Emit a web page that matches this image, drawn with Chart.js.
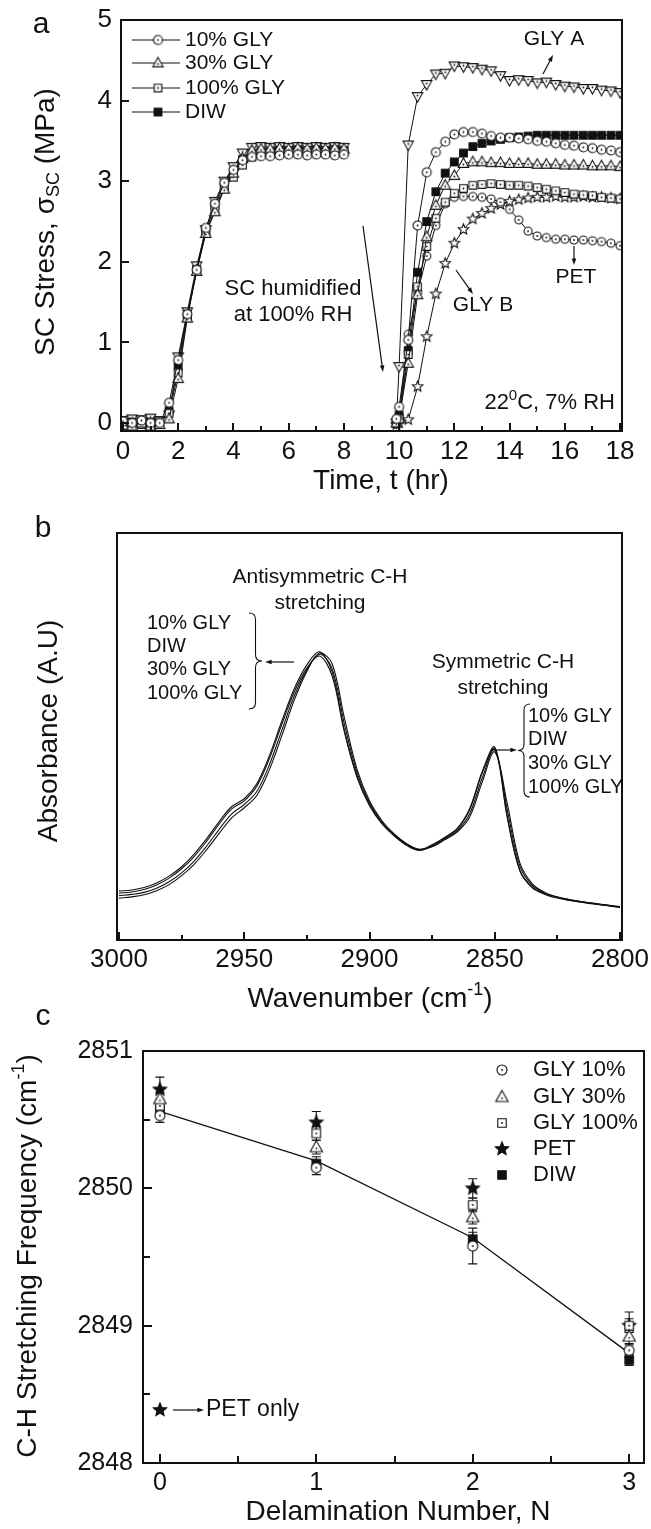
<!DOCTYPE html>
<html>
<head>
<meta charset="utf-8">
<script src="https://cdn.jsdelivr.net/npm/chart.js@4.4.1/dist/chart.umd.min.js"></script>
<style>
  html, body { margin: 0; padding: 0; background: #fff; }
  #wrap { position: relative; width: 651px; height: 1529px; }
  #wrap canvas { position: absolute; left: 0; top: 0; }
</style>
</head>
<body>
<div id="wrap">
  <canvas id="chartA" width="651" height="1529"></canvas>
  <canvas id="chartB" width="651" height="1529"></canvas>
  <canvas id="chartC" width="651" height="1529"></canvas>
</div>
<script>
const INK = "#111";
const FONT = "'Liberation Sans', Arial, Helvetica, sans-serif";

// ---- panel a: stress vs time ----
const timeDry = [0, 0.33, 0.67, 1, 1.33, 1.67, 2, 2.33, 2.67, 3, 3.33, 3.67, 4, 4.33, 4.67, 5, 5.33, 5.67, 6, 6.33, 6.67, 7, 7.33, 7.67, 8];
const timeWet = [9.9, 10, 10.33, 10.67, 11, 11.33, 11.67, 12, 12.33, 12.67, 13, 13.33, 13.67, 14, 14.33, 14.67, 15, 15.33, 15.67, 16, 16.33, 16.67, 17, 17.33, 17.67, 18];

const gly10Dry  = [0.02, 0.0, 0.03, 0.0, 0.0, 0.25, 0.78, 1.35, 1.9, 2.42, 2.72, 2.98, 3.14, 3.26, 3.3, 3.31, 3.31, 3.32, 3.33, 3.33, 3.32, 3.33, 3.33, 3.32, 3.33];
const gly30Dry  = [-0.03, -0.04, 0.0, -0.04, -0.02, 0.05, 0.55, 1.3, 1.88, 2.35, 2.62, 2.9, 3.1, 3.28, 3.38, 3.4, 3.4, 3.41, 3.4, 3.41, 3.4, 3.41, 3.4, 3.41, 3.4];
const gly100Dry = [0.0, 0.0, -0.02, 0.0, 0.02, 0.12, 0.62, 1.32, 1.9, 2.36, 2.65, 2.92, 3.05, 3.2, 3.3, 3.35, 3.36, 3.37, 3.37, 3.37, 3.38, 3.37, 3.37, 3.38, 3.37];
const diwDry    = [0.0, 0.01, 0.0, 0.01, 0.0, 0.15, 0.7, 1.35, 1.9, 2.38, 2.7, 2.95, 3.12, 3.27, 3.34, 3.36, 3.37, 3.38, 3.38, 3.39, 3.38, 3.39, 3.38, 3.39, 3.38];
const glyADry   = [0.03, 0.05, 0.04, 0.06, 0.03, 0.1, 0.82, 1.38, 1.95, 2.4, 2.75, 3.0, 3.18, 3.35, 3.42, 3.43, 3.42, 3.43, 3.42, 3.43, 3.42, 3.43, 3.42, 3.43, 3.42];

const gly10Wet  = [0.05, 0.2, 1.03, 2.45, 3.11, 3.36, 3.49, 3.58, 3.61, 3.61, 3.59, 3.56, 3.54, 3.54, 3.53, 3.52, 3.5, 3.49, 3.47, 3.45, 3.44, 3.42, 3.41, 3.39, 3.38, 3.36];
const gly30Wet  = [0.0, 0.05, 0.74, 1.59, 2.31, 2.7, 2.95, 3.07, 3.22, 3.24, 3.24, 3.23, 3.23, 3.22, 3.22, 3.22, 3.21, 3.21, 3.21, 3.2, 3.2, 3.2, 3.19, 3.19, 3.19, 3.18];
const gly100Wet = [0.0, 0.05, 0.85, 1.69, 2.19, 2.54, 2.74, 2.85, 2.91, 2.95, 2.96, 2.97, 2.96, 2.95, 2.95, 2.94, 2.92, 2.9, 2.88, 2.86, 2.84, 2.83, 2.82, 2.8, 2.79, 2.78];
const diwWet    = [0.0, 0.1, 0.9, 1.87, 2.5, 2.87, 3.1, 3.24, 3.35, 3.43, 3.47, 3.5, 3.52, 3.54, 3.55, 3.56, 3.57, 3.57, 3.57, 3.57, 3.57, 3.57, 3.57, 3.57, 3.57, 3.57];
const glyAWet   = [0.0, 0.7, 3.45, 4.05, 4.2, 4.33, 4.34, 4.43, 4.42, 4.41, 4.39, 4.37, 4.31, 4.25, 4.26, 4.25, 4.22, 4.23, 4.2, 4.18, 4.17, 4.15, 4.15, 4.13, 4.12, 4.1];
const glyBWet   = [-0.02, 0.0, 0.04, 0.45, 1.07, 1.6, 1.98, 2.23, 2.4, 2.53, 2.6, 2.66, 2.71, 2.75, 2.77, 2.79, 2.8, 2.8, 2.81, 2.8, 2.8, 2.81, 2.8, 2.8, 2.79, 2.78];
const petWet    = [0.0, 0.08, 1.1, 1.62, 2.07, 2.45, 2.72, 2.8, 2.81, 2.81, 2.8, 2.78, 2.74, 2.65, 2.52, 2.38, 2.32, 2.3, 2.28, 2.28, 2.27, 2.27, 2.26, 2.25, 2.23, 2.2];

const timeTicks = [0, 2, 4, 6, 8, 10, 12, 14, 16, 18];
const stressTicks = [0, 1, 2, 3, 4, 5];

// ---- panel b: FTIR spectra ----
const wavenumbers = [3000, 2995, 2990, 2985, 2980, 2975, 2970, 2965, 2960, 2955, 2950, 2945, 2940, 2935, 2930, 2925, 2920, 2915, 2910, 2905, 2900,
  2895, 2890, 2885, 2880, 2875, 2870, 2865, 2860, 2855, 2850, 2845, 2840, 2835, 2830, 2825, 2820, 2815, 2810, 2805, 2800];
const absGly10  = [0.120, 0.123, 0.129, 0.140, 0.157, 0.180, 0.211, 0.249, 0.291, 0.328, 0.347, 0.384, 0.452, 0.538, 0.618, 0.676, 0.708, 0.66, 0.515, 0.404, 0.333,
  0.287, 0.257, 0.234, 0.222, 0.234, 0.252, 0.274, 0.323, 0.414, 0.474, 0.305, 0.172, 0.130, 0.114, 0.105, 0.099, 0.094, 0.090, 0.086, 0.082];
const absDiw    = [0.115, 0.118, 0.124, 0.135, 0.152, 0.175, 0.205, 0.243, 0.285, 0.322, 0.342, 0.378, 0.445, 0.53, 0.61, 0.668, 0.698, 0.65, 0.51, 0.40, 0.33,
  0.285, 0.255, 0.232, 0.22, 0.232, 0.25, 0.272, 0.32, 0.41, 0.47, 0.30, 0.17, 0.128, 0.112, 0.103, 0.097, 0.092, 0.088, 0.084, 0.08];
const absGly30  = [0.109, 0.112, 0.117, 0.127, 0.143, 0.165, 0.194, 0.231, 0.272, 0.31, 0.333, 0.365, 0.43, 0.515, 0.6, 0.664, 0.702, 0.668, 0.53, 0.412, 0.337,
  0.29, 0.258, 0.234, 0.221, 0.23, 0.248, 0.268, 0.31, 0.398, 0.468, 0.32, 0.182, 0.134, 0.115, 0.105, 0.098, 0.093, 0.089, 0.085, 0.081];
const absGly100 = [0.103, 0.106, 0.111, 0.121, 0.136, 0.158, 0.186, 0.222, 0.262, 0.3, 0.325, 0.355, 0.418, 0.502, 0.59, 0.66, 0.705, 0.68, 0.545, 0.42, 0.342,
  0.293, 0.26, 0.236, 0.223, 0.229, 0.246, 0.265, 0.302, 0.388, 0.462, 0.335, 0.19, 0.138, 0.117, 0.106, 0.099, 0.094, 0.089, 0.085, 0.081];
const waveTicks = [3000, 2950, 2900, 2850, 2800];

// ---- panel c: C-H frequency vs delamination number ----
const delamN = [0, 1, 2, 3];
const freqGly10  = [2850.53, 2850.15, 2849.58, 2848.82];
const freqGly30  = [2850.65, 2850.30, 2849.79, 2848.92];
const freqGly100 = [2850.60, 2850.40, 2849.88, 2849.00];
const freqPet    = [2850.72, 2850.48, 2850.00, 2849.00];
const freqDiw    = [2850.57, 2850.18, 2849.63, 2848.75];
const errGly10   = [0.05, 0.05, 0.13, 0.05];
const errGly30   = [0.05, 0.05, 0.05, 0.06];
const errGly100  = [0.05, 0.05, 0.05, 0.10];
const errPet     = [0.09, 0.08, 0.07, 0.05];
const errDiw     = [0.05, 0.05, 0.05, 0.04];
const freqTrend  = [2850.56, 2850.20, 2849.64, 2848.80];
const delamTicks = [0, 1, 2, 3];
const freqTicks = [2848, 2849, 2850, 2851];

// ---------- markers ----------
function makeMarker(kind, r, filled, dot) {
  const size = Math.ceil(2 * r + 4);
  const c = document.createElement("canvas");
  c.width = size; c.height = size;
  const g = c.getContext("2d");
  const m = size / 2;
  let dy = 0;
  g.lineWidth = 1.1;
  g.strokeStyle = INK;
  g.fillStyle = filled ? INK : "#fff";
  g.beginPath();
  if (kind === "circle") {
    g.arc(m, m, r, 0, Math.PI * 2);
  } else if (kind === "square") {
    g.rect(m - r * 0.85, m - r * 0.85, r * 1.7, r * 1.7);
  } else if (kind === "tri" || kind === "triDown") {
    const s = kind === "tri" ? 1 : -1;
    g.moveTo(m, m - s * r);
    g.lineTo(m + r * 0.95, m + s * r * 0.7);
    g.lineTo(m - r * 0.95, m + s * r * 0.7);
    g.closePath();
    dy = s * r * 0.18;
  } else if (kind === "star") {
    for (let i = 0; i < 10; i++) {
      const a = -Math.PI / 2 + i * Math.PI / 5;
      const rr = i % 2 ? r * 0.45 : r;
      g.lineTo(m + rr * Math.cos(a), m + rr * Math.sin(a));
    }
    g.closePath();
  }
  g.fill();
  g.stroke();
  if (dot) {
    g.fillStyle = INK;
    g.beginPath();
    g.arc(m, m + dy, 0.9, 0, Math.PI * 2);
    g.fill();
  }
  return c;
}

const mkA = {
  gly10: makeMarker("circle", 4.5, false, true),
  gly30: makeMarker("tri", 5.5, false, true),
  gly100: makeMarker("square", 4.5, false, true),
  diw: makeMarker("square", 4.5, true, false),
  glyA: makeMarker("triDown", 5.5, false, true),
  glyB: makeMarker("star", 5.5, false, false),
  pet: makeMarker("circle", 4, false, true)
};
const mkC = {
  gly10: makeMarker("circle", 5, false, true),
  gly30: makeMarker("tri", 6.5, false, true),
  gly100: makeMarker("square", 5, false, true),
  pet: makeMarker("star", 7, true, false),
  diw: makeMarker("square", 5, true, false)
};

// ---------- drawing helpers ----------
function font(size) { return size + "px " + FONT; }

function text(ctx, s, x, y, size, align) {
  ctx.save();
  ctx.font = font(size);
  ctx.fillStyle = INK;
  ctx.textAlign = align || "left";
  ctx.textBaseline = "middle";
  ctx.fillText(s, x, y);
  ctx.restore();
}

// parts: [string, "" | "sub" | "sup"]
function rich(ctx, parts, x, y, size, align) {
  ctx.save();
  ctx.fillStyle = INK;
  ctx.textBaseline = "middle";
  ctx.textAlign = "left";
  const small = Math.round(size * 0.66);
  let total = 0;
  const widths = parts.map(([s, k]) => {
    ctx.font = font(k ? small : size);
    const w = ctx.measureText(s).width;
    total += w;
    return w;
  });
  let cx = align === "center" ? x - total / 2 : align === "right" ? x - total : x;
  parts.forEach(([s, k], i) => {
    ctx.font = font(k ? small : size);
    const off = k === "sub" ? size * 0.28 : k === "sup" ? -size * 0.32 : 0;
    ctx.fillText(s, cx, y + off);
    cx += widths[i];
  });
  ctx.restore();
}

function richRotated(ctx, parts, x, y, size) {
  ctx.save();
  ctx.translate(x, y);
  ctx.rotate(-Math.PI / 2);
  rich(ctx, parts, 0, 0, size, "center");
  ctx.restore();
}

function arrow(ctx, x1, y1, x2, y2) {
  const a = Math.atan2(y2 - y1, x2 - x1);
  const h = 7;
  ctx.save();
  ctx.strokeStyle = INK;
  ctx.fillStyle = INK;
  ctx.lineWidth = 1.2;
  ctx.beginPath();
  ctx.moveTo(x1, y1);
  ctx.lineTo(x2 - Math.cos(a) * h * 0.6, y2 - Math.sin(a) * h * 0.6);
  ctx.stroke();
  ctx.beginPath();
  ctx.moveTo(x2, y2);
  ctx.lineTo(x2 - h * Math.cos(a - 0.33), y2 - h * Math.sin(a - 0.33));
  ctx.lineTo(x2 - h * Math.cos(a + 0.33), y2 - h * Math.sin(a + 0.33));
  ctx.closePath();
  ctx.fill();
  ctx.restore();
}

function brace(ctx, x, y1, y2, w, dir) {
  const ym = (y1 + y2) / 2, xm = x + dir * w / 2, xt = x + dir * w, r = w / 2;
  ctx.save();
  ctx.strokeStyle = INK;
  ctx.lineWidth = 1.1;
  ctx.beginPath();
  ctx.moveTo(x, y1);
  ctx.quadraticCurveTo(xm, y1, xm, y1 + r);
  ctx.lineTo(xm, ym - r);
  ctx.quadraticCurveTo(xm, ym, xt, ym);
  ctx.quadraticCurveTo(xm, ym, xm, ym + r);
  ctx.lineTo(xm, y2 - r);
  ctx.quadraticCurveTo(xm, y2, x, y2);
  ctx.stroke();
  ctx.restore();
}

function frame(chart) {
  const { ctx, chartArea: a } = chart;
  ctx.save();
  ctx.strokeStyle = INK;
  ctx.lineWidth = 2;
  ctx.strokeRect(a.left, a.top, a.right - a.left, a.bottom - a.top);
  ctx.restore();
}

function inTicksX(chart, values, len) {
  const { ctx, chartArea: a } = chart;
  const s = chart.scales.x;
  ctx.save();
  ctx.strokeStyle = INK;
  ctx.lineWidth = 2;
  ctx.beginPath();
  values.forEach(v => {
    const p = Math.round(s.getPixelForValue(v));
    ctx.moveTo(p, a.bottom);
    ctx.lineTo(p, a.bottom - len);
  });
  ctx.stroke();
  ctx.restore();
}

function inTicksY(chart, values, len) {
  const { ctx, chartArea: a } = chart;
  const s = chart.scales.y;
  ctx.save();
  ctx.strokeStyle = INK;
  ctx.lineWidth = 2;
  ctx.beginPath();
  values.forEach(v => {
    const p = Math.round(s.getPixelForValue(v));
    ctx.moveTo(a.left, p);
    ctx.lineTo(a.left + len, p);
  });
  ctx.stroke();
  ctx.restore();
}

function midpoints(vals) {
  const out = [];
  for (let i = 0; i < vals.length - 1; i++) out.push((vals[i] + vals[i + 1]) / 2);
  return out;
}

function pts(xs, ys) { return xs.map((x, i) => ({ x: x, y: ys[i] })); }
function bothPhases(dry, wet) {
  return [...pts(timeDry, dry), { x: 9, y: null }, ...pts(timeWet, wet)];
}

function xScale(min, max, tickVals, height, size, pad, reverse) {
  return {
    type: "linear", min: min, max: max, reverse: !!reverse,
    grid: { display: false, drawTicks: false },
    border: { display: false },
    ticks: { font: { family: FONT, size: size }, color: INK, padding: pad, maxRotation: 0, autoSkip: false, callback: v => String(v) },
    afterBuildTicks: s => { s.ticks = tickVals.map(v => ({ value: v })); },
    afterFit: s => { s.height = height; s.paddingLeft = 0; s.paddingRight = 0; }
  };
}
function yScale(min, max, tickVals, width, size, pad) {
  return {
    type: "linear", min: min, max: max,
    grid: { display: false, drawTicks: false },
    border: { display: false },
    ticks: { font: { family: FONT, size: size }, color: INK, padding: pad, autoSkip: false, callback: v => String(v) },
    afterBuildTicks: s => { s.ticks = tickVals.map(v => ({ value: v })); },
    afterFit: s => { s.width = width; s.paddingTop = 0; s.paddingBottom = 0; }
  };
}

const baseOpts = {
  responsive: false,
  animation: false,
  events: [],
  plugins: { legend: { display: false }, tooltip: { enabled: false } }
};

// ---------- chart a ----------
function seriesA(label, data, marker) {
  return { label: label, data: data, showLine: true, borderColor: INK, borderWidth: 1, pointStyle: marker, pointRadius: 5, spanGaps: false };
}

const legendA = [
  ["10% GLY", mkA.gly10], ["30% GLY", mkA.gly30], ["100% GLY", mkA.gly100], ["DIW", mkA.diw]
];

const decoA = {
  id: "decoA",
  afterDraw(chart) {
    const ctx = chart.ctx;
    frame(chart);
    inTicksX(chart, timeTicks, 8);
    inTicksX(chart, midpoints(timeTicks), 5);
    inTicksY(chart, stressTicks, 8);
    text(ctx, "a", 41, 25, 30, "center");
    rich(ctx, [["Time, t (hr)", ""]], 381, 481, 28, "center");
    richRotated(ctx, [["SC Stress, \u03C3", ""], ["SC", "sub"], [" (MPa)", ""]], 46, 222, 28);
    // legend
    const rows = [40, 63, 88, 112];
    legendA.forEach(([lab, mk], i) => {
      const y = rows[i];
      ctx.save();
      ctx.strokeStyle = INK;
      ctx.lineWidth = 1.2;
      ctx.beginPath();
      ctx.moveTo(132, y); ctx.lineTo(180, y);
      ctx.stroke();
      ctx.restore();
      ctx.drawImage(mk, 158 - mk.width / 2, y - mk.height / 2);
      text(ctx, lab, 185, y, 21, "left");
    });
    // annotations
    text(ctx, "GLY A", 554, 39, 21, "center");
    arrow(ctx, 543, 74, 553, 55);
    text(ctx, "SC humidified", 293, 289, 22, "center");
    text(ctx, "at 100% RH", 293, 315, 22, "center");
    arrow(ctx, 363, 226, 383, 372);
    text(ctx, "GLY B", 483, 305, 21, "center");
    arrow(ctx, 456, 270, 473, 294);
    text(ctx, "PET", 576, 277, 21, "center");
    arrow(ctx, 574, 246, 574, 265);
    rich(ctx, [["22", ""], ["0", "sup"], ["C, 7% RH", ""]], 615, 403, 22, "right");
  }
};

new Chart(document.getElementById("chartA"), {
  type: "scatter",
  data: {
    datasets: [
      seriesA("10% GLY", bothPhases(gly10Dry, gly10Wet), mkA.gly10),
      seriesA("30% GLY", bothPhases(gly30Dry, gly30Wet), mkA.gly30),
      seriesA("100% GLY", bothPhases(gly100Dry, gly100Wet), mkA.gly100),
      seriesA("DIW", bothPhases(diwDry, diwWet), mkA.diw),
      seriesA("GLY A", bothPhases(glyADry, glyAWet), mkA.glyA),
      seriesA("PET", pts(timeWet, petWet), mkA.pet),
      seriesA("GLY B", pts(timeWet, glyBWet), mkA.glyB)
    ]
  },
  options: Object.assign({}, baseOpts, {
    layout: { padding: { left: 0, top: 20, right: 29, bottom: 1029 } },
    scales: {
      x: xScale(-0.07, 18.07, timeTicks, 69, 26, 5),
      y: yScale(-0.1, 5.0, stressTicks, 121, 26, 9)
    }
  }),
  plugins: [decoA]
});

// ---------- chart b ----------
function spectrum(label, vals) {
  return { label: label, data: pts(wavenumbers, vals), showLine: true, borderColor: INK, borderWidth: 1.1, pointRadius: 0, tension: 0.35 };
}

const decoB = {
  id: "decoB",
  afterDraw(chart) {
    const ctx = chart.ctx;
    frame(chart);
    inTicksX(chart, waveTicks, 8);
    inTicksX(chart, midpoints(waveTicks), 5);
    text(ctx, "b", 43, 529, 30, "center");
    rich(ctx, [["Wavenumber (cm", ""], ["-1", "sup"], [")", ""]], 370, 999, 28, "center");
    richRotated(ctx, [["Absorbance (A.U)", ""]], 49, 731, 28);
    text(ctx, "Antisymmetric C-H", 320, 577, 21, "center");
    text(ctx, "stretching", 320, 603, 21, "center");
    ["10% GLY", "DIW", "30% GLY", "100% GLY"].forEach((s, i) => text(ctx, s, 147, 623 + i * 23.4, 20, "left"));
    brace(ctx, 249, 613, 709, 13, 1);
    arrow(ctx, 294, 662, 265, 662);
    text(ctx, "Symmetric C-H", 503, 662, 21, "center");
    text(ctx, "stretching", 503, 688, 21, "center");
    ["10% GLY", "DIW", "30% GLY", "100% GLY"].forEach((s, i) => text(ctx, s, 528, 716 + i * 23.7, 20, "left"));
    brace(ctx, 530, 704, 797, 12, -1);
    arrow(ctx, 492, 750, 517, 750);
  }
};

new Chart(document.getElementById("chartB"), {
  type: "scatter",
  data: {
    datasets: [
      spectrum("10% GLY", absGly10),
      spectrum("DIW", absDiw),
      spectrum("30% GLY", absGly30),
      spectrum("100% GLY", absGly100)
    ]
  },
  options: Object.assign({}, baseOpts, {
    layout: { padding: { left: 117, top: 533, right: 29, bottom: 509 } },
    scales: {
      x: xScale(2799.2, 3000.8, waveTicks, 80, 26, 4, true),
      y: { type: "linear", min: 0, max: 1, display: false }
    }
  }),
  plugins: [decoB]
});

// ---------- chart c ----------
const seriesC = [
  { label: "GLY 10%", vals: freqGly10, errs: errGly10, mk: mkC.gly10 },
  { label: "GLY 30%", vals: freqGly30, errs: errGly30, mk: mkC.gly30 },
  { label: "GLY 100%", vals: freqGly100, errs: errGly100, mk: mkC.gly100 },
  { label: "PET", vals: freqPet, errs: errPet, mk: mkC.pet },
  { label: "DIW", vals: freqDiw, errs: errDiw, mk: mkC.diw }
];

const decoC = {
  id: "decoC",
  beforeDatasetsDraw(chart) {
    const { ctx, scales } = chart;
    ctx.save();
    ctx.strokeStyle = INK;
    ctx.lineWidth = 1.1;
    seriesC.forEach(s => {
      delamN.forEach((n, i) => {
        const x = scales.x.getPixelForValue(n);
        const yt = scales.y.getPixelForValue(s.vals[i] + s.errs[i]);
        const yb = scales.y.getPixelForValue(s.vals[i] - s.errs[i]);
        ctx.beginPath();
        ctx.moveTo(x, yt); ctx.lineTo(x, yb);
        ctx.moveTo(x - 4.5, yt); ctx.lineTo(x + 4.5, yt);
        ctx.moveTo(x - 4.5, yb); ctx.lineTo(x + 4.5, yb);
        ctx.stroke();
      });
    });
    ctx.restore();
  },
  afterDraw(chart) {
    const ctx = chart.ctx;
    frame(chart);
    inTicksX(chart, delamTicks, 9);
    inTicksX(chart, midpoints(delamTicks), 7);
    inTicksY(chart, freqTicks, 9);
    inTicksY(chart, midpoints(freqTicks), 7);
    text(ctx, "c", 43, 1017, 30, "center");
    rich(ctx, [["Delamination Number, N", ""]], 398, 1512, 28, "center");
    richRotated(ctx, [["C-H Stretching Frequency (cm", ""], ["-1", "sup"], [")", ""]], 28, 1256, 28);
    const rows = [1070, 1097, 1123, 1149, 1175];
    seriesC.forEach((s, i) => {
      ctx.drawImage(s.mk, 502 - s.mk.width / 2, rows[i] - s.mk.height / 2);
      text(ctx, s.label, 533, rows[i], 22, "left");
    });
    ctx.drawImage(mkC.pet, 160 - mkC.pet.width / 2, 1410 - mkC.pet.height / 2);
    arrow(ctx, 173, 1410, 204, 1410);
    text(ctx, "PET only", 206, 1410, 23, "left");
  }
};

new Chart(document.getElementById("chartC"), {
  type: "scatter",
  data: {
    datasets: [
      ...seriesC.map(s => ({ label: s.label, data: pts(delamN, s.vals), showLine: false, pointStyle: s.mk, pointRadius: 6 })),
      { label: "trend", data: pts(delamN, freqTrend), showLine: true, borderColor: INK, borderWidth: 1.3, pointRadius: 0 }
    ]
  },
  options: Object.assign({}, baseOpts, {
    layout: { padding: { left: 0, top: 1051, right: 3, bottom: 0 } },
    scales: {
      x: xScale(-0.108, 3.095, delamTicks, 66, 25, 5),
      y: yScale(2848, 2851, freqTicks, 143, 25, 10)
    }
  }),
  plugins: [decoC]
});
</script>
</body>
</html>
